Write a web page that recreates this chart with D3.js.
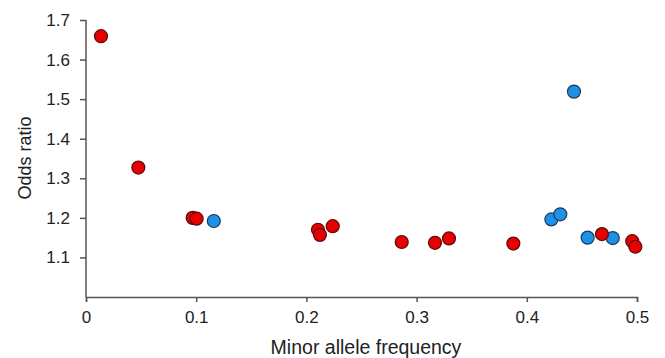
<!DOCTYPE html>
<html>
<head>
<meta charset="utf-8">
<script src="https://cdn.jsdelivr.net/npm/d3@7"></script>
<style>
  body { margin: 0; background: #fff; }
  svg { font-family: "Liberation Sans", Arial, sans-serif; }
  .axis path, .axis line { stroke: #555; stroke-width: 1.5; }
  .axis text { font-size: 17px; fill: #222; }
</style>
</head>
<body>
<svg width="665" height="358"></svg>
<script>
// data
const redMaf = [0.0136, 0.0475, 0.0968, 0.1004, 0.2105, 0.2123, 0.2239, 0.2865, 0.3167, 0.3294, 0.3878, 0.4682, 0.4957, 0.4985];
const redOr  = [1.659, 1.327, 1.200, 1.198, 1.170, 1.157, 1.179, 1.139, 1.137, 1.148, 1.135, 1.159, 1.141, 1.127];
const blueMaf = [0.116, 0.4223, 0.4304, 0.4428, 0.4552, 0.478];
const blueOr  = [1.192, 1.196, 1.209, 1.519, 1.150, 1.149];
const xTicks = [0, 0.1, 0.2, 0.3, 0.4, 0.5];
const yTicks = [1.1, 1.2, 1.3, 1.4, 1.5, 1.6, 1.7];

const svg = d3.select("svg");

const x = d3.scaleLinear().domain([0, 0.5]).range([86, 637]);
const y = d3.scaleLinear().domain([1.0, 1.7]).range([297, 20]);

// axes
svg.append("g")
  .attr("class", "axis")
  .attr("transform", "translate(0,297)")
  .call(d3.axisBottom(x).tickValues(xTicks).tickSize(5).tickPadding(9)
    .tickFormat(d => d === 0 ? "0" : d3.format(".1f")(d)));

svg.append("g")
  .attr("class", "axis")
  .attr("transform", "translate(86,0)")
  .call(d3.axisLeft(y).tickValues(yTicks).tickSize(6).tickPadding(10).tickFormat(d3.format(".1f")))
  .call(g => g.select(".domain").attr("d", `M0,${y(1.7)}V${y(1.0)}`));

// axis titles
svg.append("text")
  .attr("x", 366).attr("y", 354)
  .attr("text-anchor", "middle")
  .style("font-size", "19.5px").style("fill", "#222")
  .text("Minor allele frequency");

svg.append("text")
  .attr("transform", "translate(31,158) rotate(-90)")
  .attr("text-anchor", "middle")
  .style("font-size", "18px").style("fill", "#222")
  .text("Odds ratio");

// points
const drawSeries = (xs, ys, fill, stroke) => {
  svg.append("g")
    .selectAll("circle")
    .data(xs.map((v, i) => [v, ys[i]]))
    .enter().append("circle")
      .attr("cx", d => x(d[0]))
      .attr("cy", d => y(d[1]))
      .attr("r", 6.5)
      .attr("fill", fill)
      .attr("stroke", stroke)
      .attr("stroke-width", 1.2);
};

drawSeries(blueMaf, blueOr, "#1e90e6", "#1c3a5a");
drawSeries(redMaf, redOr, "#e60000", "#5a0a0a");
</script>
</body>
</html>
